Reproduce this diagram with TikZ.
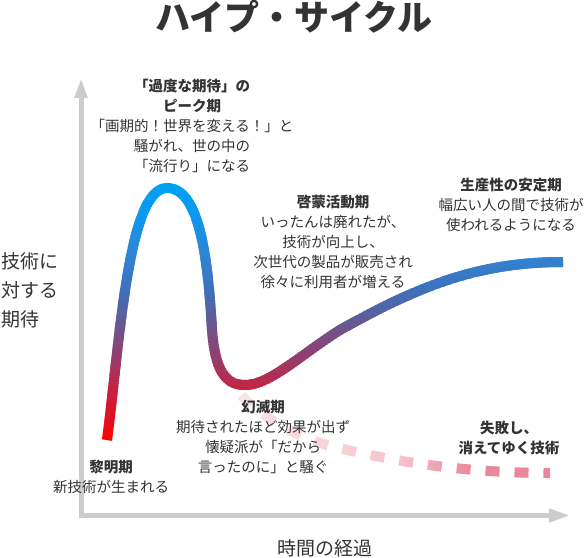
\documentclass[tikz,border=0pt]{standalone}
\usepackage{fontspec}
\setmainfont{Noto Sans CJK JP}
\usetikzlibrary{arrows.meta}
\definecolor{axisgray}{HTML}{CCCCCC}
\definecolor{inktext}{HTML}{333333}
\definecolor{hypeA}{RGB}{0,160,245}
\definecolor{hypeB}{RGB}{15,150,235}
\definecolor{hypeC}{RGB}{46,134,214}
\definecolor{hypeD}{RGB}{62,113,188}
\definecolor{hypeE}{RGB}{90,95,156}
\definecolor{hypeF}{RGB}{125,75,128}
\definecolor{hypeG}{RGB}{150,60,105}
\definecolor{hypeH}{RGB}{192,38,72}
\definecolor{hypeI}{RGB}{225,16,35}
\definecolor{hypeJ}{RGB}{255,0,0}
\definecolor{tailA}{RGB}{252,232,236}
\definecolor{tailB}{RGB}{247,208,214}
\definecolor{tailC}{RGB}{244,196,205}
\definecolor{tailD}{RGB}{238,160,175}
\definecolor{tailE}{RGB}{232,136,154}
\tikzset{
 hype path/.style={insert path={(107,440) .. controls (120,340) and (128,188) .. (167,188)
  .. controls (200,188) and (208,260) .. (212,330) .. controls (215,370) and (225,385) .. (245,385)
  .. controls (270,385) and (300,355) .. (340,330) .. controls (420,285) and (480,262) .. (563,262)}},
 tail path/.style={insert path={(214,345) .. controls (225,395) and (270,425) .. (320,443)
  .. controls (400,465) and (480,473) .. (550,473)}}}
\begin{document}
\begin{tikzpicture}[x=1pt,y=-1pt,
 head/.style={font=\bfseries\fontsize{14.5}{20}\selectfont,text=inktext,align=center,inner sep=0pt},
 note/.style={font=\fontsize{14.5}{20}\selectfont,text=inktext,align=center,inner sep=0pt},
 axislabel/.style={font=\fontsize{19}{29}\selectfont,text=inktext,inner sep=0pt}]
\useasboundingbox (0,0) rectangle (586,557);
\foreach \xa/\xb/\ca/\cb in {200/215/tailA/tailA,215/340/tailA/tailB,340/400/tailB/tailC,
 400/440/tailC/tailD,440/480/tailD/tailE,480/560/tailE/tailE}{
 \pgfmathtruncatemacro\nb{max(1,round((\xb-\xa)/3))}
 \foreach \k in {1,...,\nb}{
  \pgfmathsetmacro\xl{\xa+(\k-1)*(\xb-\xa)/\nb}
  \pgfmathsetmacro\xr{\xa+\k*(\xb-\xa)/\nb+0.6}
  \pgfmathtruncatemacro\mix{100*(\k-0.5)/\nb}
  \colorlet{bandcol}{\cb!\mix!\ca}
  \begin{scope}
   \clip (\xl,330) rectangle (\xr,485);
   \draw[bandcol,line width=10pt,dash pattern=on 14pt off 15pt,tail path];
  \end{scope}
 }
}
\foreach \ya/\yb/\ca/\cb in {178/188/hypeA/hypeA,188/220/hypeA/hypeB,220/253/hypeB/hypeC,
 253/290/hypeC/hypeD,290/315/hypeD/hypeE,315/340/hypeE/hypeF,340/360/hypeF/hypeG,
 360/385/hypeG/hypeH,385/420/hypeH/hypeI,420/440/hypeI/hypeJ,440/452/hypeJ/hypeJ}{
 \pgfmathtruncatemacro\nb{max(1,round((\yb-\ya)/2))}
 \foreach \k in {1,...,\nb}{
  \pgfmathsetmacro\yt{\ya+(\k-1)*(\yb-\ya)/\nb}
  \pgfmathsetmacro\ybt{\ya+\k*(\yb-\ya)/\nb+0.6}
  \pgfmathtruncatemacro\mix{100*(\k-0.5)/\nb}
  \colorlet{bandcol}{\cb!\mix!\ca}
  \begin{scope}
   \clip (90,\yt) rectangle (580,\ybt);
   \draw[bandcol,line width=10pt,hype path];
  \end{scope}
 }
}
\coordinate (ytip) at (81,78);
\coordinate (origin) at (81,515.5);
\coordinate (xtip) at (570,515.5);
\draw[axisgray,line width=5pt,{Triangle[length=20pt,width=12pt]}-{Triangle[length=21pt,width=13pt]}]
 (ytip) -- (origin) -- (xtip);
\node[font=\bfseries\fontsize{35}{40}\selectfont,text=inktext,inner sep=0pt] (title) at (294,17) {ハイプ・サイクル};
\node[axislabel,align=left,anchor=west] (ylabel) at (1,290) {技術に\\対する\\期待};
\node[axislabel] (xlabel) at (325,548) {時間の経過};
\node[note] (peak) at (192,126) {\textbf{「過度な期待」の}\\\textbf{ピーク期}\\「画期的！世界を変える！」と\\騒がれ、世の中の\\「流行り」になる};
\node[note] (enlight) at (333,242) {\textbf{啓蒙活動期}\\いったんは廃れたが、\\技術が向上し、\\次世代の製品が販売され\\徐々に利用者が増える};
\node[note] (plateau) at (511,205) {\textbf{生産性の安定期}\\幅広い人の間で技術が\\使われるようになる};
\node[note] (trough) at (263,437) {\textbf{幻滅期}\\期待されたほど効果が出ず\\懐疑派が「だから\\言ったのに」と騒ぐ};
\node[note] (trigger) at (111,477) {\textbf{黎明期}\\新技術が生まれる};
\node[head] (fail) at (509,438) {失敗し、\\消えてゆく技術};
\end{tikzpicture}
\end{document}
